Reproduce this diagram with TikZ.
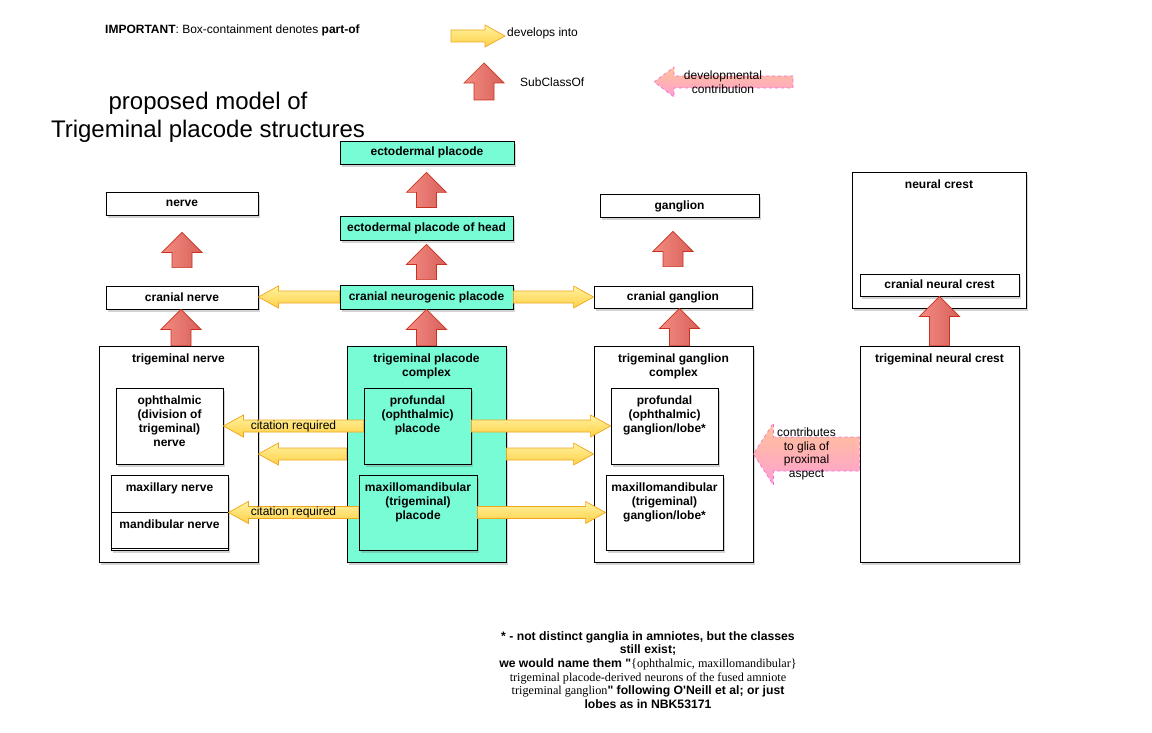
\documentclass[tikz,border=0pt]{standalone}
\usepackage{fontspec}
\setmainfont{Liberation Sans}[Ligatures=TeXOff]
\newfontfamily\quotefont{Liberation Serif}[Ligatures=TeXOff]
\usetikzlibrary{calc, shadows}
\definecolor{placodecolor}{RGB}{120,252,214}
\definecolor{subclasslight}{RGB}{244,140,130}
\definecolor{subclassdark}{RGB}{214,96,90}
\definecolor{subclassline}{RGB}{200,50,30}
\definecolor{devlight}{RGB}{255,243,160}
\definecolor{devdark}{RGB}{255,208,70}
\definecolor{devline}{RGB}{240,165,30}
\definecolor{contribpeach}{RGB}{255,195,150}
\definecolor{contribpink}{RGB}{255,160,210}
\definecolor{contribline}{RGB}{240,110,220}

\newcommand{\boxfont}{\fontsize{12}{14}\selectfont\bfseries}
% horizontal block arrow: style, shaft half height, head half height, from, tip
\newcommand{\sidearrow}[5]{%
  \draw[#1] let \p1=(#4), \p2=(#5), \n1={sign(\x2-\x1)} in
    (\x1,\y1+#2pt) -- (\x2-\n1*20pt,\y1+#2pt) -- (\x2-\n1*20pt,\y1+#3pt) -- (\x2,\y1)
    -- (\x2-\n1*20pt,\y1-#3pt) -- (\x2-\n1*20pt,\y1-#2pt) -- (\x1,\y1-#2pt) -- cycle;}
\newcommand{\devinto}[2]{\sidearrow{devarrow}{6}{11}{#1}{#2}}
\newcommand{\contrib}[4]{\sidearrow{contribarrow}{#1}{#2}{#3}{#4}}
% upward block arrow: base, tip
\newcommand{\subclass}[2]{%
  \draw[subarrow] let \p1=(#1), \p2=(#2) in
    (\x1-10pt,\y1) -- (\x1-10pt,\y2-20pt) -- (\x1-20pt,\y2-20pt) -- (\x1,\y2)
    -- (\x1+20pt,\y2-20pt) -- (\x1+10pt,\y2-20pt) -- (\x1+10pt,\y1) -- cycle;}

\begin{document}
\begin{tikzpicture}[x=1pt, y=-1pt,
    box/.style={draw, line width=0.8pt, fill=white, inner sep=0pt, font=\boxfont,
      text height=9pt, text depth=2pt,
      drop shadow={shadow xshift=1.5pt, shadow yshift=-3pt, opacity=0.35}},
    placode/.style={box, fill=placodecolor},
    boxtitle/.style={label={[anchor=north, yshift=-6pt, inner sep=2pt, align=center, font=\boxfont]north:#1}},
    devarrow/.style={draw=devline, line width=0.7pt, top color=devlight, bottom color=devdark},
    subarrow/.style={draw=subclassline, line width=0.7pt, left color=subclasslight, right color=subclassdark},
    contribarrow/.style={draw=contribline, dashed, line width=0.7pt, top color=contribpeach, bottom color=contribpink},
    legend/.style={font=\fontsize{12}{13.5}\selectfont, inner sep=0pt, align=center}
]
    \useasboundingbox (0,0) rectangle (1152,733);

    % Legend
    \node[legend, anchor=west] (important) at (105,30) {\textbf{IMPORTANT}: Box-containment denotes \textbf{part-of}};
    \coordinate (devlegS) at (451,36);
    \coordinate (devlegT) at (505,36);
    \devinto{devlegS}{devlegT}
    \node[legend, anchor=west] (devleg) at (507,33) {develops into};
    \coordinate (sublegS) at (484,100);
    \coordinate (sublegT) at (484,63);
    \subclass{sublegS}{sublegT}
    \node[legend, anchor=west] (subleg) at (520,82) {SubClassOf};
    \coordinate (conlegS) at (793,82);
    \coordinate (conlegT) at (654,82);
    \contrib{6}{15}{conlegS}{conlegT}
    \node[legend] (conleg) at (723,82) {developmental\\contribution};

    \node[align=center, font=\fontsize{24}{28}\selectfont] (title) at (208,117) {proposed model of\\Trigeminal placode structures};

    % Classes
    \node[placode, minimum width=174pt, minimum height=23pt] (ecto) at (427,152.5) {ectodermal placode};
    \node[placode, minimum width=173pt, minimum height=24pt] (ectohead) at (426.5,228) {ectodermal placode of head};
    \node[placode, minimum width=173pt, minimum height=24pt] (cnplac) at (426.5,297) {cranial neurogenic placode};
    \node[box, minimum width=152pt, minimum height=23pt] (nerve) at (182,203.5) {nerve};
    \node[box, minimum width=152pt, minimum height=23pt] (cnerve) at (182,297.5) {cranial nerve};
    \node[box, minimum width=159pt, minimum height=23pt] (ganglion) at (679.5,205.5) {ganglion};
    \node[box, minimum width=158pt, minimum height=22pt] (cganglion) at (673,297) {cranial ganglion};
    \node[box, minimum width=174pt, minimum height=136pt, boxtitle={neural crest}] (ncrest) at (939,240) {};
    \node[box, minimum width=159pt, minimum height=22pt, drop shadow={opacity=0}] (cncrest) at (939.5,285) {cranial neural crest};

    % Trigeminal complexes
    \node[box, minimum width=159pt, minimum height=216pt, boxtitle={trigeminal nerve}] (tnerve) at (178.5,454) {};
    \node[box, minimum width=107pt, minimum height=76pt, drop shadow={opacity=0},
      boxtitle={ophthalmic\\(division of\\trigeminal)\\nerve}] (ophnerve) at (169.5,426) {};
    \node[box, minimum width=117pt, minimum height=37pt, drop shadow={opacity=0},
      boxtitle={maxillary nerve}] (maxnerve) at (169.5,493.5) {};
    \node[box, minimum width=117pt, minimum height=38pt, drop shadow={opacity=0},
      boxtitle={mandibular nerve}] (mandnerve) at (169.5,531) {};
    \draw[line width=0.8pt] ([yshift=2pt]mandnerve.south west) -- ([yshift=2pt]mandnerve.south east);

    \node[placode, minimum width=159pt, minimum height=216pt, boxtitle={trigeminal placode\\complex}] (tpc) at (426.5,454) {};
    \node[placode, minimum width=107pt, minimum height=76pt, drop shadow={opacity=0},
      boxtitle={profundal\\(ophthalmic)\\placode}] (profplac) at (417.5,426) {};
    \node[placode, minimum width=118pt, minimum height=75pt, drop shadow={opacity=0},
      boxtitle={maxillomandibular\\(trigeminal)\\placode}] (mmplac) at (418,512.5) {};

    \node[box, minimum width=159pt, minimum height=216pt, boxtitle={trigeminal ganglion\\complex}] (tgc) at (673.5,454) {};
    \node[box, minimum width=107pt, minimum height=76pt, drop shadow={opacity=0},
      boxtitle={profundal\\(ophthalmic)\\ganglion/lobe*}] (profgang) at (664.5,426) {};
    \node[box, minimum width=117pt, minimum height=75pt, drop shadow={opacity=0},
      boxtitle={maxillomandibular\\(trigeminal)\\ganglion/lobe*}] (mmgang) at (664.5,512.5) {};

    \node[box, minimum width=159pt, minimum height=216pt, boxtitle={trigeminal neural crest}] (tncrest) at (939.5,454) {};

    % SubClassOf
    \subclass{[yshift=8pt]ectohead.north}{[yshift=-8pt]ecto.south}
    \subclass{[yshift=5pt]cnplac.north}{[yshift=-4pt]ectohead.south}
    \subclass{[yshift=18pt]cnerve.north}{[yshift=-17pt]nerve.south}
    \subclass{[yshift=19pt]cganglion.north}{[yshift=-14pt]ganglion.south}
    \subclass{[xshift=2.5pt]tnerve.north}{cnerve.south}
    \subclass{tpc.north}{cnplac.south}
    \subclass{[xshift=6pt]tgc.north}{cganglion.south}
    \subclass{tncrest.north}{cncrest.south}

    % develops into
    \devinto{cnplac.west}{cnerve.east}
    \devinto{cnplac.east}{cganglion.west}
    \devinto{profplac.west}{ophnerve.east}
    \devinto{tpc.west}{tnerve.east}
    \devinto{mmplac.west}{maxnerve.south east}
    \devinto{profplac.east}{profgang.west}
    \devinto{tpc.east}{tgc.west}
    \devinto{mmplac.east}{mmgang.west}
    \node[legend] (cite1) at ($(profplac.west)!0.5!(ophnerve.east)$) {citation required};
    \node[legend] (cite2) at ($(mmplac.west)!0.5!(maxnerve.south east)$) {citation required};

    % developmental contribution
    \contrib{17}{31}{tncrest.west}{tgc.east}
    \node[legend] (glia) at ($(tncrest.west)!0.5!(tgc.east)$) {contributes\\to glia of\\proximal\\aspect};

    % Footnote
    \node[align=center, font=\fontsize{12.2}{13.6}\selectfont\bfseries] (footnote) at (648,670)
      {* - not distinct ganglia in amniotes, but the classes\\still exist;\\
       we would name them "{\quotefont\mdseries\{ophthalmic, maxillomandibular\}}\\
       {\quotefont\mdseries trigeminal placode-derived neurons of the fused amniote}\\
       {\quotefont\mdseries trigeminal ganglion}" following O'Neill et al; or just\\
       lobes as in NBK53171};
\end{tikzpicture}
\end{document}
